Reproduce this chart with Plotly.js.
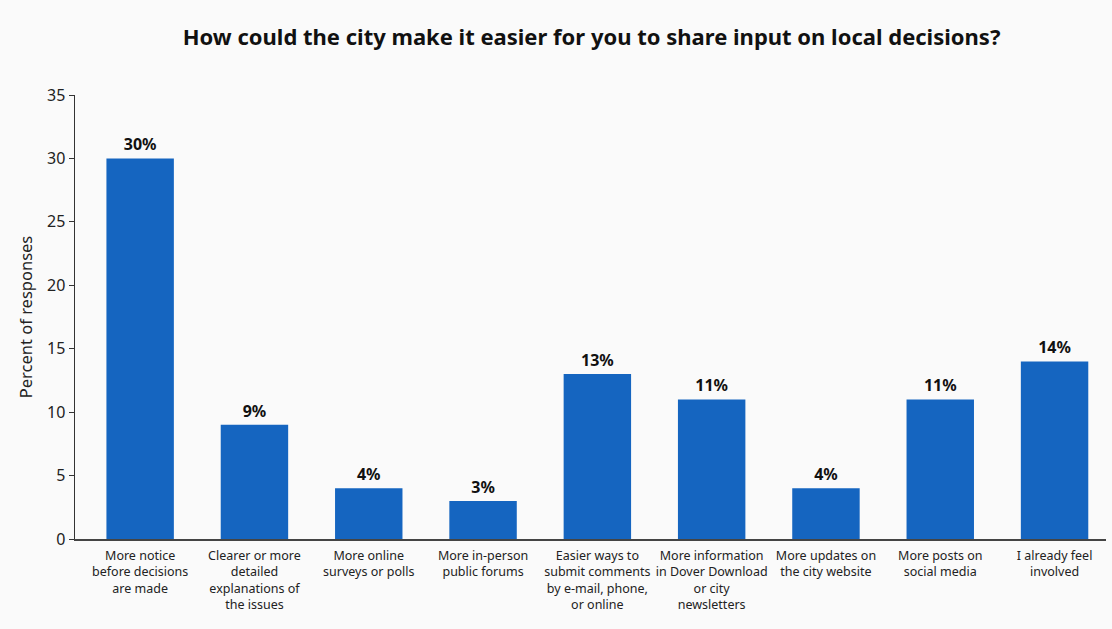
<!DOCTYPE html>
<html>
<head>
<meta charset="utf-8">
<script src="https://cdn.plot.ly/plotly-3.0.1.min.js"></script>
<style>
html,body{margin:0;padding:0;background:#fafafa;}
#chart{width:1112px;height:629px;}
</style>
</head>
<body>
<div id="chart"></div>
<script>
const categories = [
  "More notice<br>before decisions<br>are made",
  "Clearer or more<br>detailed<br>explanations of<br>the issues",
  "More online<br>surveys or polls",
  "More in-person<br>public forums",
  "Easier ways to<br>submit comments<br>by e-mail, phone,<br>or online",
  "More information<br>in Dover Download<br>or city<br>newsletters",
  "More updates on<br>the city website",
  "More posts on<br>social media",
  "I already feel<br>involved"
];
const values = [30, 9, 4, 3, 13, 11, 4, 11, 14];
const valueLabels = values.map(v => "<b>" + v + "%</b>");
const yTicks = [0, 5, 10, 15, 20, 25, 30, 35];

const trace = {
  type: "bar",
  x: categories.map((c, i) => i),
  y: values,
  text: valueLabels,
  textposition: "outside",
  cliponaxis: false,
  textfont: {family: "Noto Sans", size: 16, color: "#111111"},
  marker: {color: "#1565c0", line: {width: 0}},
  hoverinfo: "none"
};

const layout = {
  width: 1112,
  height: 629,
  paper_bgcolor: "#fafafa",
  plot_bgcolor: "#fafafa",
  font: {family: "Noto Sans", color: "#222222"},
  margin: {l: 75, r: 6, t: 95, b: 90},
  bargap: 0.41,
  showlegend: false,
  title: {
    text: "<b>How could the city make it easier for you to share input on local decisions?</b>",
    font: {family: "Noto Sans", size: 22, color: "#111111"},
    x: 0.532, xanchor: "center", y: 0.94, yanchor: "middle"
  },
  xaxis: {
    range: [-0.57, 8.45],
    tickmode: "array",
    tickvals: categories.map((c, i) => i),
    ticktext: categories,
    ticks: "",
    ticklabelstandoff: 4,
    tickfont: {family: "Noto Sans", size: 12.5, color: "#222222"},
    showline: true,
    linecolor: "#444444",
    linewidth: 2,
    showgrid: false,
    zeroline: false,
    fixedrange: true
  },
  yaxis: {
    range: [0, 35],
    tickmode: "array",
    tickvals: yTicks,
    ticks: "outside",
    ticklen: 5,
    tickcolor: "#333333",
    tickfont: {family: "Noto Sans", size: 16, color: "#222222"},
    showline: true,
    linecolor: "#333333",
    linewidth: 1.5,
    showgrid: false,
    zeroline: false,
    title: {text: "Percent of responses", font: {family: "Noto Sans", size: 16.5, color: "#222222"}, standoff: 10},
    fixedrange: true
  }
};

Plotly.newPlot("chart", [trace], layout, {displayModeBar: false, staticPlot: true});
</script>
</body>
</html>
